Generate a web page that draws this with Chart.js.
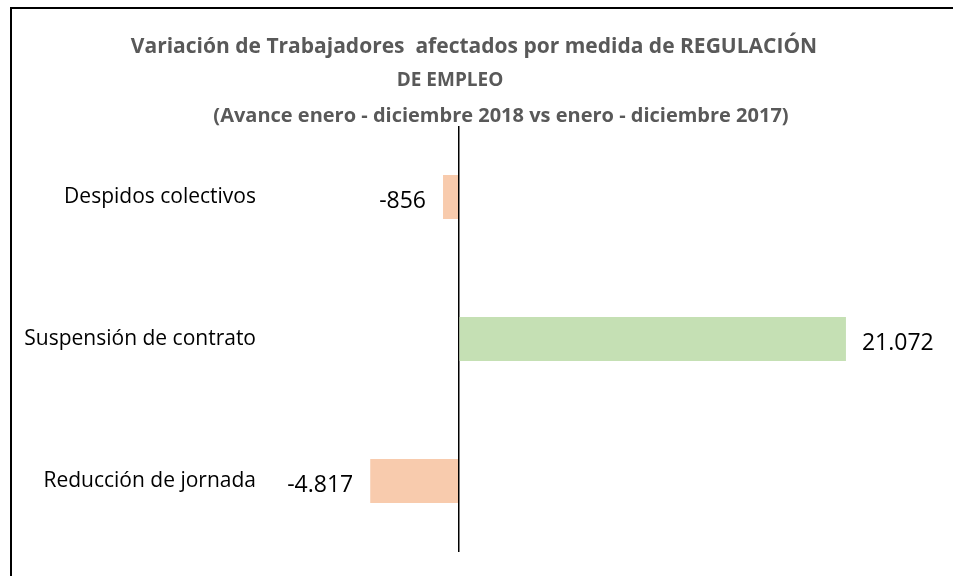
<!DOCTYPE html>
<html>
<head>
<meta charset="utf-8">
<script src="https://cdn.jsdelivr.net/npm/chart.js@4"></script>
<style>
  html, body { margin: 0; padding: 0; background: #fff; overflow: hidden; }
  canvas { display: block; }
</style>
</head>
<body>
<canvas id="chartRegulacion" width="953" height="576"></canvas>
<script>
// dati
const categorie = ['Despidos colectivos', 'Suspensión de contrato', 'Reducción de jornada'];
const variazione = [-856, 21072, -4817];
const coloriBarre = ['#F8CBAD', '#C5E0B4', '#F8CBAD'];
const etichette = ['-856', '21.072', '-4.817'];
const titolo = [
    'Variación de Trabajadores  afectados por medida de REGULACIÓN',
    'DE EMPLEO',
    '(Avance enero - diciembre 2018 vs enero - diciembre 2017)'
];

const fontBase = "'Open Sans', 'Noto Sans', sans-serif";

// titolo disegnato a mano (righe con centri diversi come nell'originale)
const titlePlugin = {
    id: 'titoloExcel',
    afterDraw(chart) {
        const c = chart.ctx;
        c.save();
        // cornice
        c.strokeStyle = '#000';
        c.lineWidth = 2;
        c.beginPath();
        c.moveTo(953, 8);
        c.lineTo(11, 8);
        c.lineTo(11, 576);
        c.stroke();

        c.fillStyle = '#595959';
        c.textAlign = 'center';
        c.textBaseline = 'middle';
        c.font = 'bold 21px ' + fontBase;
        c.fillText(titolo[0], 474, 47);
        c.font = 'bold 19px ' + fontBase;
        c.fillText(titolo[1], 450, 81);
        c.font = 'bold 20px ' + fontBase;
        c.fillText(titolo[2], 501, 116);
        c.restore();
    }
};

// etichette valori accanto alle barre
const valueLabels = {
    id: 'valoriBarre',
    afterDatasetsDraw(chart) {
        const c = chart.ctx;
        const meta = chart.getDatasetMeta(0);
        c.save();
        c.fillStyle = '#000';
        c.font = '23px ' + fontBase;
        c.textBaseline = 'middle';
        meta.data.forEach((bar, i) => {
            const v = variazione[i];
            if (v < 0) {
                c.textAlign = 'right';
                c.fillText(etichette[i], bar.x - 17, bar.y + 4);
            } else {
                c.textAlign = 'left';
                c.fillText(etichette[i], bar.x + 16, bar.y + 4);
            }
        });
        c.restore();
    }
};

const ctx = document.getElementById('chartRegulacion').getContext('2d');

const dataChart = {
    labels: categorie,
    datasets: [{
        data: variazione,
        backgroundColor: coloriBarre,
        borderWidth: 0,
        categoryPercentage: 1,
        barPercentage: 0.31
    }]
};

const configChart = {
    type: 'bar',
    data: dataChart,
    options: {
        indexAxis: 'y',
        responsive: false,
        animation: false,
        layout: {
            padding: { top: 126, bottom: 24, left: 0, right: 16.5 }
        },
        plugins: {
            legend: { display: false },
            title: { display: false },
            tooltip: { enabled: false }
        },
        scales: {
            x: {
                min: -10000,
                max: 26000,
                ticks: { display: false, stepSize: 2000 },
                border: { display: false },
                grid: {
                    drawTicks: false,
                    color: (c) => c.tick && c.tick.value === 0 ? '#000' : 'rgba(0,0,0,0)',
                    lineWidth: (c) => c.tick && c.tick.value === 0 ? 1.5 : 0
                },
                afterFit: (scale) => {
                    scale.height = 0;
                    scale.paddingLeft = 0; scale.paddingRight = 0;
                    scale.paddingTop = 0; scale.paddingBottom = 0;
                }
            },
            y: {
                ticks: {
                    color: '#000',
                    padding: 19,
                    font: { family: fontBase, size: 21 }
                },
                border: { display: false },
                grid: { display: false, drawTicks: false },
                afterFit: (scale) => {
                    scale.width = 275;
                    scale.paddingTop = 0; scale.paddingBottom = 0;
                }
            }
        }
    },
    plugins: [titlePlugin, valueLabels]
};

// avvio chart
const chartRegulacion = new Chart(ctx, configChart);
</script>
</body>
</html>
